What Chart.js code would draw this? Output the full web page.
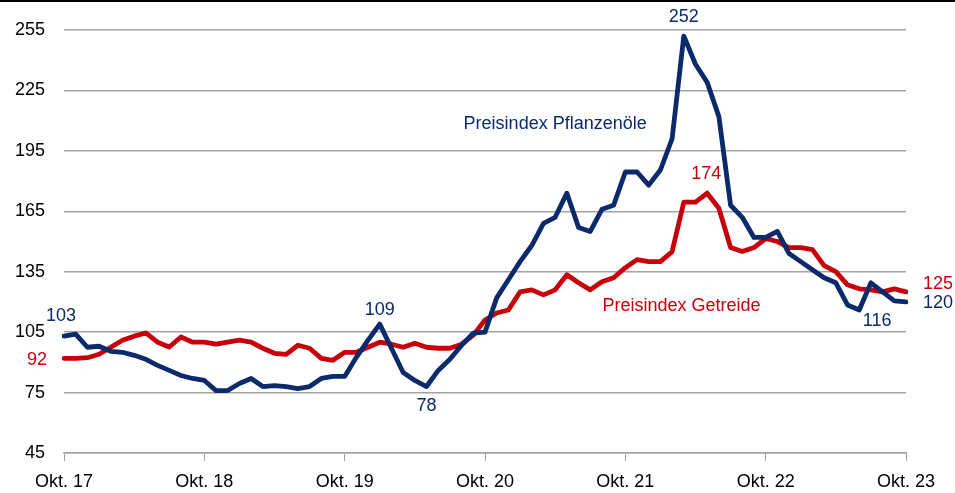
<!DOCTYPE html>
<html>
<head>
<meta charset="utf-8">
<script src="https://cdn.jsdelivr.net/npm/chart.js@4"></script>
<style>
  html, body { margin: 0; padding: 0; background: #fff; }
  #wrap { width: 955px; height: 493px; position: relative; }
</style>
</head>
<body>
<div id="wrap"><canvas id="myChart"></canvas></div>
<script>
// month categories Okt. 17 .. Okt. 23
const monthNames = ['Okt.', 'Nov.', 'Dez.', 'Jan.', 'Feb.', 'Mrz.', 'Apr.', 'Mai', 'Jun.', 'Jul.', 'Aug.', 'Sep.'];
const startYear = 17;
const monthCount = 73;

const pflanzenoele = [
    103, 104, 97.5, 98, 95.5, 95, 93.5, 91.5, 88.5, 86, 83.5, 82,
    81, 76, 76, 79.5, 82, 78, 78.5, 78, 77, 78, 82, 83,
    83, 92.5, 101, 109, 97, 85, 81, 78, 86, 91.5, 98.5, 104.5,
    105, 122, 131, 140, 148, 159, 162, 174, 157, 155, 166, 168,
    184.5, 184.5, 178, 185.5, 201, 252, 238, 229, 212, 168, 162, 152,
    152, 155, 144, 140, 136, 132, 129.5, 118.5, 116, 129.5, 125, 120.5,
    120
];

const getreide = [
    92, 92, 92.3, 94, 97.5, 101, 103, 104.6, 100, 97.6, 102.6, 100,
    100, 99, 100, 101, 100, 97, 94.5, 94, 98.5, 97, 92, 91,
    95, 95, 97.5, 100, 99, 97.5, 99.5, 97.5, 97, 97, 99, 103.5,
    111, 114.5, 116, 125, 126, 123.5, 126, 133.5, 129.5, 126, 130, 132,
    137, 141, 140, 140, 145, 169.5, 169.5, 174, 166.5, 147, 145, 147,
    151.5, 150, 147, 147, 146, 138, 135, 128.5, 126.5, 126, 125, 126.5,
    125
];

const yTicks = [45, 75, 105, 135, 165, 195, 225, 255];

// which points get a value label (index into the series)
const pflanzenLabelIdx = [0, 27, 31, 53, 68, 72];
const getreideLabelIdx = [0, 55, 72];

const blue = '#0b2a6b';
const red = '#c8000b';
const grey = '#a3a3a3';

const months = [];
for (let i = 0; i < monthCount; i++) {
    const yr = startYear + Math.floor((i + 9) / 12);
    months.push(monthNames[i % 12] + ' ' + yr);
}

Chart.defaults.font.family = "'Liberation Sans', Arial, sans-serif";
Chart.defaults.font.size = 18;
Chart.defaults.color = '#000';

// offsets / alignment for the value labels
const labelStyle = {
    p0:  { dx: -3,  dy: -20, align: 'center', base: 'middle' },
    p27: { dx: 0,   dy: -14, align: 'center', base: 'middle' },
    p31: { dx: 0,   dy: 20,  align: 'center', base: 'middle' },
    p53: { dx: 0,   dy: -19, align: 'center', base: 'middle' },
    p68: { dx: 18,  dy: 11,  align: 'center', base: 'middle' },
    p72: { dx: 17,  dy: 1,   align: 'left',   base: 'middle' },
    g0:  { dx: -17, dy: 2,   align: 'right',  base: 'middle' },
    g55: { dx: -1,  dy: -10, align: 'center', base: 'bottom' },
    g72: { dx: 17,  dy: -8,  align: 'left',   base: 'middle' }
};

const labelPlugin = {
    id: 'labels',
    beforeDraw(chart) {
        const c = chart.ctx;
        c.save();
        c.fillStyle = '#000';
        c.fillRect(0, 0, chart.width, 2);
        c.restore();
    },
    afterDatasetsDraw(chart) {
        const c = chart.ctx;
        const xs = chart.scales.x, ys = chart.scales.y;
        c.save();
        c.font = "18px 'Liberation Sans', Arial, sans-serif";
        function put(txt, x, y, col, align, base) {
            c.fillStyle = col;
            c.textAlign = align;
            c.textBaseline = base;
            c.fillText(txt, x, y);
        }
        const m0 = chart.getDatasetMeta(0), m1 = chart.getDatasetMeta(1);
        pflanzenLabelIdx.forEach(i => {
            const p = m0.data[i], s = labelStyle['p' + i];
            put(String(Math.round(pflanzenoele[i])), p.x + s.dx, p.y + s.dy, blue, s.align, s.base);
        });
        getreideLabelIdx.forEach(i => {
            const p = m1.data[i], s = labelStyle['g' + i];
            put(String(Math.round(getreide[i])), p.x + s.dx, p.y + s.dy, red, s.align, s.base);
        });
        // series names
        put('Preisindex Pflanzenöle', xs.getPixelForValue(42), ys.getPixelForValue(208.5), blue, 'center', 'middle');
        put('Preisindex Getreide', xs.getPixelForValue(52.8), ys.getPixelForValue(118), red, 'center', 'middle');
        c.restore();
    }
};

const ctx = document.getElementById('myChart');

const myChart = new Chart(ctx, {
    type: 'line',
    data: {
        labels: months,
        datasets: [
            {
                label: 'Preisindex Pflanzenöle',
                data: pflanzenoele,
                borderColor: blue,
                borderWidth: 4.8,
                pointRadius: 0,
                tension: 0,
                borderJoinStyle: 'round',
                borderCapStyle: 'round'
            },
            {
                label: 'Preisindex Getreide',
                data: getreide,
                borderColor: red,
                borderWidth: 4.8,
                pointRadius: 0,
                tension: 0,
                borderJoinStyle: 'round',
                borderCapStyle: 'round'
            }
        ]
    },
    options: {
        responsive: true,
        maintainAspectRatio: false,
        animation: false,
        layout: { padding: { top: 30, right: 49, left: 0, bottom: 0 } },
        scales: {
            x: {
                offset: false,
                afterFit: s => { s.height = 40; },
                grid: {
                    drawOnChartArea: false,
                    tickLength: 8,
                    color: c => (c.index % 12 === 0 ? grey : 'transparent')
                },
                border: { color: grey, width: 1.5 },
                ticks: {
                    autoSkip: false,
                    maxRotation: 0,
                    padding: 10,
                    callback: (v, i) => (i % 12 === 0 ? months[i] : '')
                }
            },
            y: {
                min: 45,
                max: 255,
                afterFit: s => { s.width = 64; },
                afterBuildTicks: s => { s.ticks = yTicks.map(v => ({ value: v })); },
                grid: { color: grey, lineWidth: 1.5, drawTicks: false },
                border: { display: false },
                ticks: { padding: 19 }
            }
        },
        plugins: {
            legend: { display: false },
            tooltip: { enabled: false }
        }
    },
    plugins: [labelPlugin]
});
</script>
</body>
</html>
